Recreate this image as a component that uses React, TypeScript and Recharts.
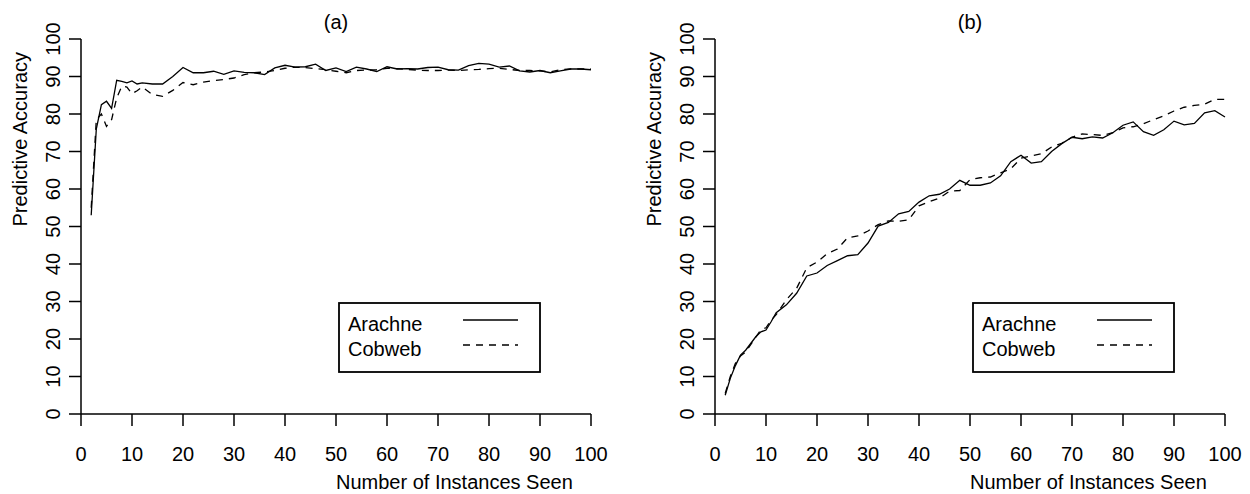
import { Line, LineChart, XAxis, YAxis } from 'recharts';

const instances = [
  2, 3, 4, 5, 6, 7, 8, 9, 10, 11, 12, 14, 16, 18, 20, 22, 24, 26, 28, 30, 32, 34, 36, 38, 40, 42, 44, 46, 48, 50,
  52, 54, 56, 58, 60, 62, 64, 66, 68, 70, 72, 74, 76, 78, 80, 82, 84, 86, 88, 90, 92, 94, 96, 98, 100,
];

const arachneA = [
  53, 76, 82.5, 83.4, 81.5, 89, 88.7, 88.3, 88.8, 88, 88.3, 88, 88, 90, 92.4, 91, 91, 91.4, 90.6, 91.5, 91.1, 91,
  90.5, 92.3, 93, 92.5, 92.6, 93.3, 91.6, 92.3, 91.3, 92.5, 92, 91.3, 92.6, 92, 92.1, 92, 92.4, 92.5, 91.8, 91.7,
  92.9, 93.5, 93.3, 92.5, 92.8, 91.5, 91.2, 91.6, 91, 91.5, 92, 92, 91.8,
];
const cobwebA = [
  55, 78.5, 80, 76.7, 78.5, 84.3, 87.4, 87.2, 85.4, 86.2, 87.2, 85.2, 84.7, 86.3, 88.4, 87.8, 88.5, 88.9, 89.2,
  89.6, 90.5, 91, 91.2, 91.6, 92.2, 92.5, 92.4, 92.1, 91.8, 91.4, 91, 91.6, 91.7, 91.8, 92.2, 92.1, 91.9, 91.7,
  91.6, 91.6, 91.7, 91.6, 91.8, 91.9, 92.1, 92.2, 91.9, 91.6, 91.6, 91.5, 91.2, 91.8, 92, 92, 92,
];

const arachneB = [
  5, 9.5, 12.9, 15.7, 17, 18.8, 20.6, 21.9, 22.4, 24.6, 27, 29.1, 32.2, 36.8, 37.6, 39.6, 40.9, 42.2, 42.5, 45.6,
  50.1, 51.1, 53.4, 54, 56.5, 58.2, 58.6, 60, 62.3, 61, 61, 61.6, 63.5, 67.3, 69, 66.9, 67.3, 70, 72.1, 73.8, 73.4,
  73.9, 73.6, 75, 77, 77.9, 75.3, 74.3, 75.8, 78.1, 77.1, 77.5, 80.3, 80.9, 79.2,
];
const cobwebB = [
  5.5, 10, 13.5, 15.5, 16.5, 18.5, 20.5, 22.5, 23, 25, 26.5, 30.5, 33.5, 39, 40.5, 42.8, 44, 47, 47.5, 48.8, 50.5,
  51.5, 51.4, 51.8, 55.5, 56.6, 57.6, 59.4, 59.6, 62.5, 63, 63.2, 64.3, 65.4, 68.2, 68.8, 69.4, 71.2, 72.2, 73.8,
  74.7, 74.5, 74.3, 75, 76.3, 76.6, 77.4, 78.5, 79.5, 80.8, 81.8, 82.3, 82.6, 83.9, 83.9,
];

const xTicks = [0, 10, 20, 30, 40, 50, 60, 70, 80, 90, 100];
const yTicks = [0, 10, 20, 30, 40, 50, 60, 70, 80, 90, 100];
const seriesNames = ['Arachne', 'Cobweb'];

const W = 625;
const H = 494;
const PLOT_L = 81;
const PLOT_R = 591;
const PLOT_T = 39;
const PLOT_B = 414;
const FONT = 20;

const axisStroke = { stroke: '#000', strokeWidth: 1.5 };

function YTick({ y, payload }: any) {
  const cx = PLOT_L - 28;
  return (
    <text x={cx} y={y} dy="0.35em" textAnchor="middle" fontSize={FONT} fill="#000" transform={`rotate(-90, ${cx}, ${y})`}>
      {payload.value}
    </text>
  );
}

function Panel({ left, title, arachne, cobweb }: { left: number; title: string; arachne: number[]; cobweb: number[] }) {
  const data = instances.map((x, i) => ({ x, arachne: arachne[i], cobweb: cobweb[i] }));
  const midX = (PLOT_L + PLOT_R) / 2;
  const midY = (PLOT_T + PLOT_B) / 2;
  const boxL = PLOT_L + 258;
  const boxT = 303;
  return (
    <div style={{ position: 'absolute', left, top: 0, width: W, height: H }}>
      <LineChart width={W} height={H} data={data} margin={{ top: PLOT_T, right: W - PLOT_R, bottom: 0, left: 0 }}>
        <XAxis
          dataKey="x"
          type="number"
          domain={[0, 100]}
          ticks={xTicks}
          interval={0}
          height={H - PLOT_B - PLOT_T + PLOT_T}
          tickSize={12}
          tickMargin={21}
          axisLine={axisStroke}
          tickLine={axisStroke}
          tick={{ fill: '#000', fontSize: FONT }}
        />
        <YAxis
          type="number"
          domain={[0, 100]}
          ticks={yTicks}
          interval={0}
          width={PLOT_L}
          tickSize={12}
          axisLine={axisStroke}
          tickLine={axisStroke}
          tick={<YTick />}
        />
        <Line dataKey="arachne" stroke="#000" strokeWidth={1.3} dot={false} isAnimationActive={false} />
        <Line dataKey="cobweb" stroke="#000" strokeWidth={1.3} strokeDasharray="7 6" dot={false} isAnimationActive={false} />
      </LineChart>
      <svg width={W} height={H} style={{ position: 'absolute', left: 0, top: 0, pointerEvents: 'none' }}>
        <text x={midX} y={29} textAnchor="middle" fontSize={FONT} fill="#000">
          {title}
        </text>
        <text x={27} y={midY} fontSize={FONT} fill="#000" transform={`rotate(-90, 27, ${midY})`}>
          Predictive Accuracy
        </text>
        <text x={midX} y={489} fontSize={FONT} fill="#000">
          Number of Instances Seen
        </text>
        <rect x={boxL} y={boxT} width={201} height={69} fill="#fff" stroke="#000" strokeWidth={1.8} />
        <text x={boxL + 9} y={331} fontSize={FONT} fill="#000">
          {seriesNames[0]}
        </text>
        <text x={boxL + 9} y={356} fontSize={FONT} fill="#000">
          {seriesNames[1]}
        </text>
        <line x1={boxL + 124} x2={boxL + 179} y1={320} y2={320} stroke="#000" strokeWidth={1.3} />
        <line x1={boxL + 124} x2={boxL + 179} y1={345} y2={345} stroke="#000" strokeWidth={1.3} strokeDasharray="7 6" />
      </svg>
    </div>
  );
}

export default function App() {
  return (
    <div
      style={{
        position: 'absolute',
        left: 0,
        top: 0,
        width: 1250,
        height: 494,
        background: '#fff',
        fontFamily: '"Liberation Sans", Arial, sans-serif',
      }}
    >
      <Panel left={0} title="(a)" arachne={arachneA} cobweb={cobwebA} />
      <Panel left={634} title="(b)" arachne={arachneB} cobweb={cobwebB} />
    </div>
  );
}
